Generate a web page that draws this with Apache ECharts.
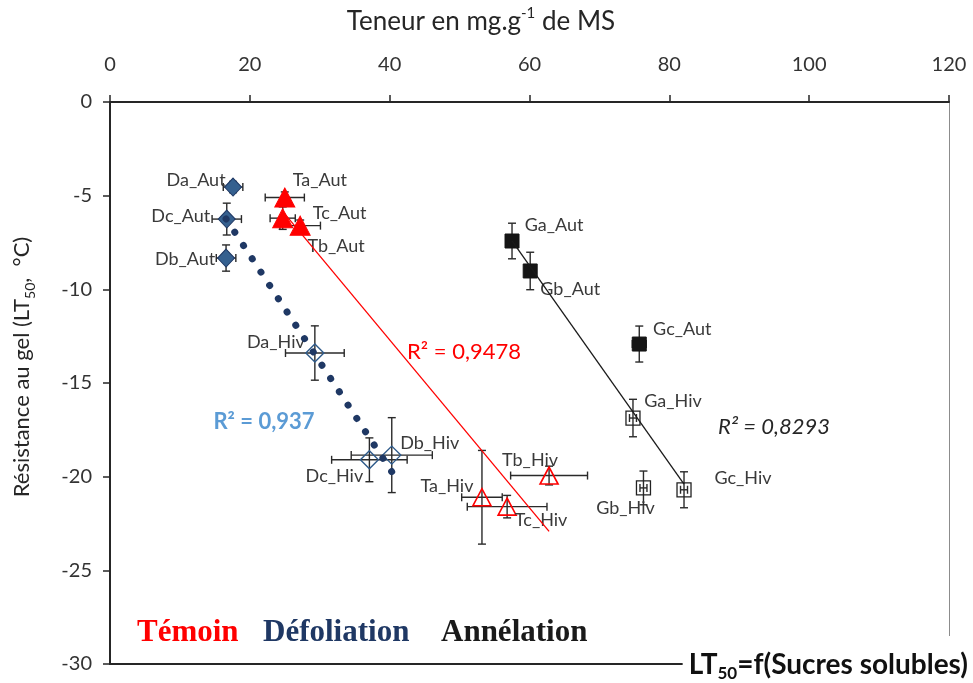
<!DOCTYPE html>
<html><head><meta charset="utf-8">
<script src="https://cdn.jsdelivr.net/npm/echarts@6/dist/echarts.min.js"></script>
<style>html,body{margin:0;padding:0;background:#fff}#c{width:973px;height:683px}</style>
</head><body><div id="c"></div>
<script>
// ---- tick labels ----
const xTicks = [0, 20, 40, 60, 80, 100, 120];
const yTicks = [0, -5, -10, -15, -20, -25, -30];

// ---- Témoin ----
const namesT = ['Ta_Aut', 'Tb_Aut', 'Tc_Aut', 'Ta_Hiv', 'Tb_Hiv', 'Tc_Hiv'];
const sugarT = [25.0, 27.2, 24.7, 53.2, 62.8, 56.8];
const lt50T  = [-5.1, -6.6, -6.2, -21.1, -19.94, -21.6];
const errXT  = [2.8, 2.9, 1.8, 2.9, 5.5, 5.7];
const errYT  = [0.3, 0.3, 0.6, 2.5, 0.5, 0.6];

// ---- Défoliation ----
const namesD = ['Da_Aut', 'Db_Aut', 'Dc_Aut', 'Da_Hiv', 'Db_Hiv', 'Dc_Hiv'];
const sugarD = [17.6, 16.6, 16.7, 29.3, 40.3, 37.1];
const lt50D  = [-4.54, -8.33, -6.25, -13.4, -18.85, -19.1];
const errXD  = [1.4, 1.4, 2.1, 4.2, 5.8, 5.4];
const errYD  = [0.3, 0.7, 0.85, 1.45, 2.0, 1.17];

// ---- Annélation ----
const namesG = ['Ga_Aut', 'Gb_Aut', 'Gc_Aut', 'Ga_Hiv', 'Gb_Hiv', 'Gc_Hiv'];
const sugarG = [57.5, 60.1, 75.7, 74.8, 76.3, 82.1];
const lt50G  = [-7.42, -9.02, -12.92, -16.87, -20.6, -20.7];
const errXG  = [0.5, 0.5, 1.0, 0.5, 0.5, 0.5];
const errYG  = [0.95, 1.0, 0.96, 1.0, 0.9, 0.96];

const r2Texts = ['R² = 0,9478', 'R² = 0,937', 'R² = 0,8293'];
const groupTexts = ['Témoin', 'Défoliation', 'Annélation'];

// ---- styling (label offsets in px) ----
const labelOffsets = {
  Da_Aut: [-37, -7], Dc_Aut: [-46, -3], Db_Aut: [-41, 1],
  Ta_Aut: [35, -17], Tc_Aut: [57, -5], Tb_Aut: [36, 21],
  Da_Hiv: [-39, -11], Dc_Hiv: [-35, 16], Db_Hiv: [38, -12],
  Ta_Hiv: [-35, -11], Tc_Hiv: [34, 14], Tb_Hiv: [-19, -15],
  Ga_Aut: [42, -16], Gb_Aut: [40, 18], Gc_Aut: [43, -15],
  Ga_Hiv: [40, -17], Gb_Hiv: [-18, 20], Gc_Hiv: [59, -12]
};
const FONT = 'Lato, "Open Sans", sans-serif';
const AUT = [0, 1, 2], HIV = [3, 4, 5];

function pts(names, xs, ys, idx) {
  return idx.map(i => ({ name: names[i], value: [xs[i], ys[i]], label: { offset: labelOffsets[names[i]] } }));
}
function errData(xs, ys, ex, ey) {
  return xs.map((x, i) => [x, ys[i], ex[i], ey[i]]);
}
function fit(xs, ys) {
  const n = xs.length;
  const mx = xs.reduce((a, b) => a + b, 0) / n, my = ys.reduce((a, b) => a + b, 0) / n;
  let sxy = 0, sxx = 0;
  for (let i = 0; i < n; i++) { sxy += (xs[i] - mx) * (ys[i] - my); sxx += (xs[i] - mx) ** 2; }
  const s = sxy / sxx, b = my - s * mx;
  const x0 = Math.min(...xs), x1 = Math.max(...xs);
  return [[x0, b + s * x0], [x1, b + s * x1]];
}
function errRender(params, api) {
  const x = api.value(0), y = api.value(1), ex = api.value(2), ey = api.value(3);
  const l = api.coord([x - ex, y]), r = api.coord([x + ex, y]);
  const t = api.coord([x, y + ey]), b = api.coord([x, y - ey]);
  const cap = 4;
  const st = { stroke: '#2a2a2a', lineWidth: 1.4 };
  const ln = (x1, y1, x2, y2) => ({ type: 'line', shape: { x1, y1, x2, y2 }, style: st });
  return { type: 'group', children: [
    ln(l[0], l[1], r[0], r[1]), ln(t[0], t[1], b[0], b[1]),
    ln(l[0], l[1] - cap, l[0], l[1] + cap), ln(r[0], r[1] - cap, r[0], r[1] + cap),
    ln(t[0] - cap, t[1], t[0] + cap, t[1]), ln(b[0] - cap, b[1], b[0] + cap, b[1])
  ] };
}
const lbl = { show: true, position: 'inside', formatter: '{b}', color: '#3a3a3a', fontSize: 18, fontFamily: FONT, opacity: 1 };
function scatter(data, symbol, size, itemStyle) {
  return { type: 'scatter', data, symbol, symbolSize: size, itemStyle: Object.assign({ opacity: 1 }, itemStyle),
    label: lbl, z: 3, emphasis: { disabled: true } };
}
function errSeries(d) {
  return { type: 'custom', renderItem: errRender, data: d, encode: { x: 0, y: 1 }, z: 2, silent: true };
}

const chart = echarts.init(document.getElementById('c'), null, { renderer: 'canvas' });
const option = {
  animation: false,
  backgroundColor: '#fff',
  grid: { left: 110, right: 24, top: 102, bottom: 19, outerBoundsMode: 'none' },
  xAxis: [{
    type: 'value', position: 'top', min: xTicks[0], max: xTicks[xTicks.length - 1], interval: xTicks[1] - xTicks[0],
    axisLine: { show: true, onZero: false, lineStyle: { color: '#262626', width: 2 } },
    axisTick: { show: true, inside: false, length: 7, lineStyle: { color: '#262626', width: 1.5 } },
    axisLabel: { fontSize: 20, fontFamily: FONT, color: '#333', margin: 27, showMinLabel: true, showMaxLabel: true },
    splitLine: { show: false }
  }, {
    type: 'value', position: 'bottom', min: xTicks[0], max: xTicks[xTicks.length - 1],
    axisLine: { show: true, onZero: false, lineStyle: { color: '#262626', width: 2 } },
    axisTick: { show: false }, axisLabel: { show: false }, splitLine: { show: false }
  }],
  yAxis: [{
    type: 'value', min: yTicks[yTicks.length - 1], max: yTicks[0], interval: yTicks[0] - yTicks[1],
    axisLine: { show: true, onZero: false, lineStyle: { color: '#262626', width: 2 } },
    axisTick: { show: true, inside: false, length: 7, lineStyle: { color: '#262626', width: 1.5 } },
    axisLabel: { fontSize: 20, fontFamily: FONT, color: '#333', margin: 18, showMinLabel: true, showMaxLabel: true },
    splitLine: { show: false }
  }, {
    type: 'value', position: 'right', min: yTicks[yTicks.length - 1], max: yTicks[0],
    axisLine: { show: true, onZero: false, lineStyle: { color: '#8c8c8c', width: 1 } },
    axisTick: { show: false }, axisLabel: { show: false }, splitLine: { show: false }
  }],
  series: [
    errSeries(errData(sugarT, lt50T, errXT, errYT)),
    errSeries(errData(sugarD, lt50D, errXD, errYD)),
    errSeries(errData(sugarG, lt50G, errXG, errYG)),
    scatter(pts(namesT, sugarT, lt50T, AUT), 'triangle', [20, 19], { color: '#ff0000', borderColor: '#ff0000', borderWidth: 1 }),
    scatter(pts(namesT, sugarT, lt50T, HIV), 'triangle', [18, 17], { color: 'rgba(0,0,0,0)', borderColor: '#ff0000', borderWidth: 1.6 }),
    scatter(pts(namesD, sugarD, lt50D, AUT), 'diamond', [17, 18], { color: '#35608f', borderColor: '#1f3864', borderWidth: 1 }),
    scatter(pts(namesD, sugarD, lt50D, HIV), 'diamond', [18, 18], { color: 'rgba(0,0,0,0)', borderColor: '#2e5a8a', borderWidth: 1.4 }),
    scatter(pts(namesG, sugarG, lt50G, AUT), 'rect', [14, 14], { color: '#151515', borderColor: '#151515', borderWidth: 1 }),
    scatter(pts(namesG, sugarG, lt50G, HIV), 'rect', [14, 14], { color: 'rgba(0,0,0,0)', borderColor: '#222', borderWidth: 1.3 }),
    { type: 'line', data: fit(sugarT, lt50T), symbol: 'none', z: 4, silent: true,
      lineStyle: { color: '#ff0000', width: 1.3 } },
    { type: 'line', data: fit(sugarD, lt50D), symbol: 'none', z: 4, silent: true,
      lineStyle: { color: '#1f3864', width: 7, type: [0.1, 15.8], cap: 'round' } },
    { type: 'line', data: fit(sugarG, lt50G), symbol: 'none', z: 4, silent: true,
      lineStyle: { color: '#1a1a1a', width: 1.3 } }
  ],
  graphic: [
    { type: 'text', x: 481, y: 22, z: 10, style: { text: 'Teneur en mg.g{sup|-1} de MS', fill: '#262626', font: '26px ' + FONT,
      align: 'center', verticalAlign: 'middle', textAlign: 'center', textVerticalAlign: 'middle',
      rich: { sup: { fontSize: 15, fontFamily: FONT, fill: '#262626', verticalAlign: 'top', lineHeight: 32 } } } },
    { type: 'text', x: 22, y: 367, rotation: Math.PI / 2, z: 10, style: { text: 'Résistance au gel (LT{sub|50},  °C)', fill: '#262626', font: '22px ' + FONT,
      align: 'center', verticalAlign: 'middle', textAlign: 'center', textVerticalAlign: 'middle',
      rich: { sub: { fontSize: 14, fontFamily: FONT, fill: '#262626', verticalAlign: 'bottom', lineHeight: 30 } } } },
    { type: 'text', x: 464, y: 352, z: 10, style: { text: r2Texts[0], fill: '#ff0000', font: '22px ' + FONT, align: 'center', verticalAlign: 'middle', textAlign: 'center', textVerticalAlign: 'middle' } },
    { type: 'text', x: 264, y: 422, z: 10, style: { text: r2Texts[1], fill: '#5b9bd5', font: 'bold 22px ' + FONT, align: 'center', verticalAlign: 'middle', textAlign: 'center', textVerticalAlign: 'middle' } },
    { type: 'text', x: 774, y: 427, z: 10, style: { text: r2Texts[2], fill: '#262626', font: 'italic 22px ' + FONT, align: 'center', verticalAlign: 'middle', textAlign: 'center', textVerticalAlign: 'middle' } },
    { type: 'text', x: 137, y: 633, z: 10, style: { text: groupTexts[0], fill: '#ff0000', font: 'bold 31px "Liberation Serif", serif', align: 'left', verticalAlign: 'middle', textAlign: 'left', textVerticalAlign: 'middle' } },
    { type: 'text', x: 263, y: 633, z: 10, style: { text: groupTexts[1], fill: '#1f3864', font: 'bold 31px "Liberation Serif", serif', align: 'left', verticalAlign: 'middle', textAlign: 'left', textVerticalAlign: 'middle' } },
    { type: 'text', x: 441, y: 633, z: 10, style: { text: groupTexts[2], fill: '#1a1a1a', font: 'bold 31px "Liberation Serif", serif', align: 'left', verticalAlign: 'middle', textAlign: 'left', textVerticalAlign: 'middle' } },
    { type: 'text', x: 970, y: 662, z: 10, style: { text: 'LT{sub|50}=f(Sucres solubles)', fill: '#111', font: 'bold 28px ' + FONT,
      align: 'right', verticalAlign: 'middle', textAlign: 'right', textVerticalAlign: 'middle',
      backgroundColor: '#fff', padding: [12, 2, 6, 6],
      rich: { sub: { fontSize: 17, fontWeight: 'bold', fontFamily: FONT, fill: '#111', verticalAlign: 'bottom', lineHeight: 34 } } } }
  ]
};
chart.setOption(option);
</script>
</body></html>
